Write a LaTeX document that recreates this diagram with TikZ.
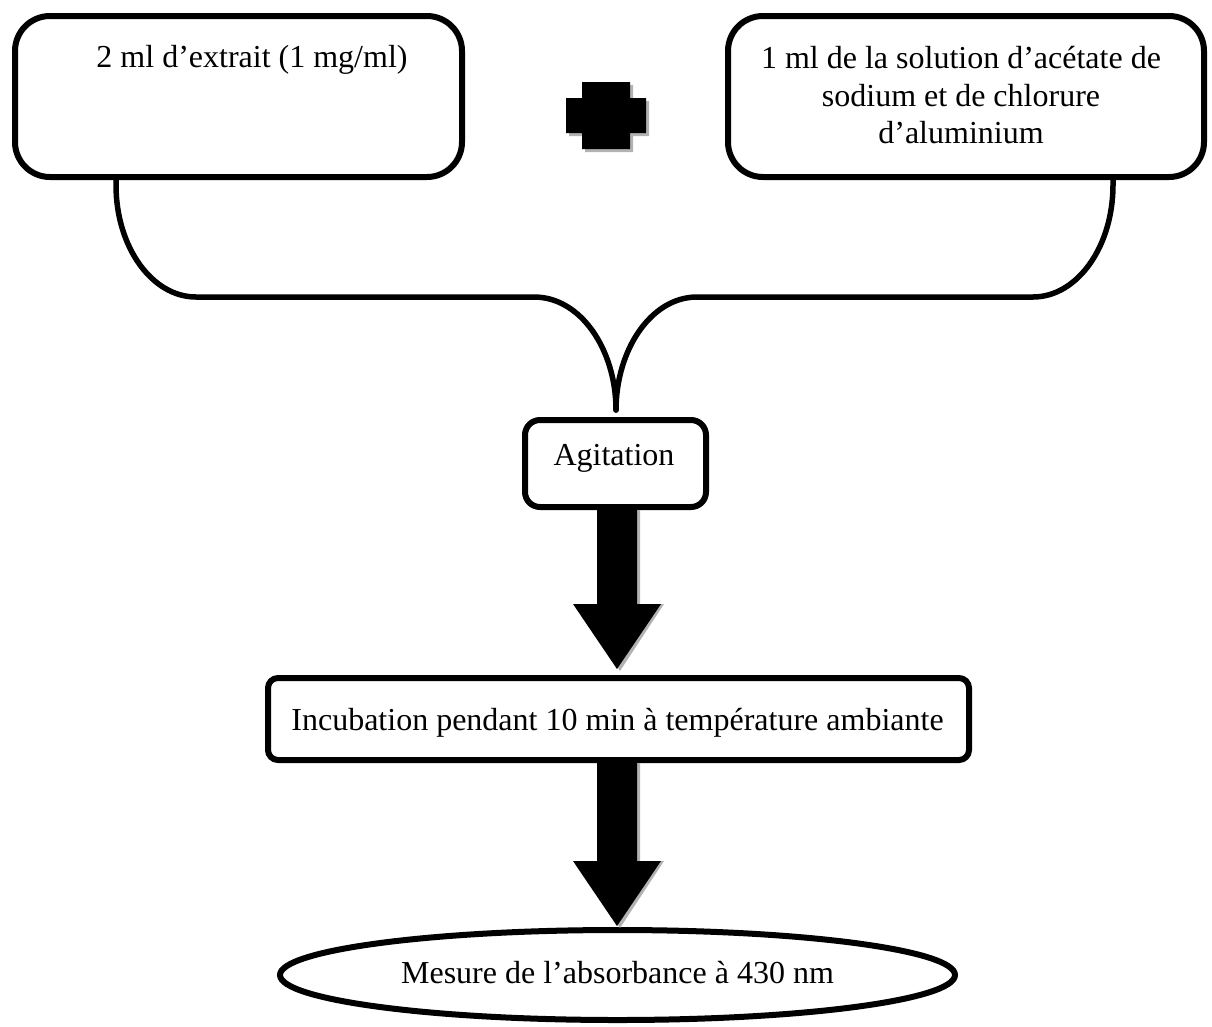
\documentclass[tikz,border=0pt]{standalone}
\usepackage{fontspec}
\setmainfont{Liberation Serif}
\usetikzlibrary{shapes.geometric,calc}
\tikzset{
  box/.style={draw, line width=6pt, inner sep=0pt, rounded corners=#1},
  txt/.style={anchor=base, inner sep=0pt, font=\fontsize{32}{37}\selectfont, align=center},
  bracel/.style={draw, line width=5.5pt, line cap=round},
  shadowfill/.style={fill=black!30},
  blockfill/.style={fill=black},
}
\newcommand{\blockarr}[2]{%
  \fill[shadowfill] ([shift={(-17,0)}]#1) -- ([shift={(-17,-65)}]#2) -- ([shift={(-41,-65)}]#2)
     -- ([shift={(3,2)}]#2) -- ([shift={(47,-65)}]#2) -- ([shift={(23,-65)}]#2) -- ([shift={(23,0)}]#1) -- cycle;
  \fill[blockfill] ([shift={(-20,0)}]#1) -- ([shift={(-20,-65)}]#2) -- ([shift={(-44,-65)}]#2)
     -- (#2) -- ([shift={(44,-65)}]#2) -- ([shift={(20,-65)}]#2) -- ([shift={(20,0)}]#1) -- cycle;
}
\begin{document}
\begin{tikzpicture}[x=1pt,y=-1pt]
\useasboundingbox (0,0) rectangle (1212,1026);

% boxes
\node[box=35pt, minimum width=447pt, minimum height=161pt] (box1) at (238.5,96.5) {};
\node[box=35pt, minimum width=476pt, minimum height=161pt] (box2) at (966,96.5) {};
\node[box=15pt, minimum width=181pt, minimum height=87pt] (agit) at (615.5,463.5) {};
\node[box=10pt, minimum width=701pt, minimum height=82pt] (incub) at (618.5,719) {};
\node[draw, ellipse, line width=6pt, inner sep=0pt, minimum width=675pt, minimum height=90pt] (mes) at (617.5,975) {};

% texts
\node[txt] (t1) at (252,67) {2 ml d’extrait (1 mg/ml)};
\node[txt] (t2a) at (961,68) {1 ml de la solution d’acétate de};
\node[txt] (t2b) at (961,106) {sodium et de chlorure};
\node[txt] (t2c) at (961,143) {d’aluminium};
\node[txt] (t3) at (614,465) {Agitation};
\node[txt] (t4) at (617.5,730) {Incubation pendant 10 min à température ambiante};
\node[txt] (t5) at (617.5,983) {Mesure de l’absorbance à 430 nm};

% plus sign
\fill[black!30] (585,85) -- (633,85) -- (633,101) -- (649,101) -- (649,136) -- (633,136) -- (633,152) -- (585,152)
  -- (585,136) -- (569,136) -- (569,101) -- (585,101) -- cycle;
\fill[black] (582,82) -- (630,82) -- (630,98) -- (646,98) -- (646,133) -- (630,133) -- (630,149) -- (582,149)
  -- (582,133) -- (566,133) -- (566,98) -- (582,98) -- cycle;

% brace connectors
\coordinate (cusp) at ($(agit.north)+(0.5,-7)$);
\coordinate (bl) at (box1.south -| 116,0);
\coordinate (br) at (box2.south -| 1113,0);
\draw[bracel] (bl) -- (116,185) .. controls (116,247) and (152,297) .. (196,297)
  -- (534,297) .. controls (581,297) and (616,350) .. (cusp);
\draw[bracel] (br) -- (1113,185) .. controls (1113,247) and (1077,297) .. (1033,297)
  -- (697,297) .. controls (651,297) and (616,350) .. (cusp);

% block arrows
\coordinate (tip1) at ($(incub.north)+(-1.5,-6)$);
\coordinate (s1) at (tip1 |- agit.south);
\blockarr{s1}{tip1}
\coordinate (tip2) at ($(mes.north)+(-0.5,-1)$);
\coordinate (s2) at (tip2 |- incub.south);
\blockarr{s2}{tip2}
\end{tikzpicture}
\end{document}
